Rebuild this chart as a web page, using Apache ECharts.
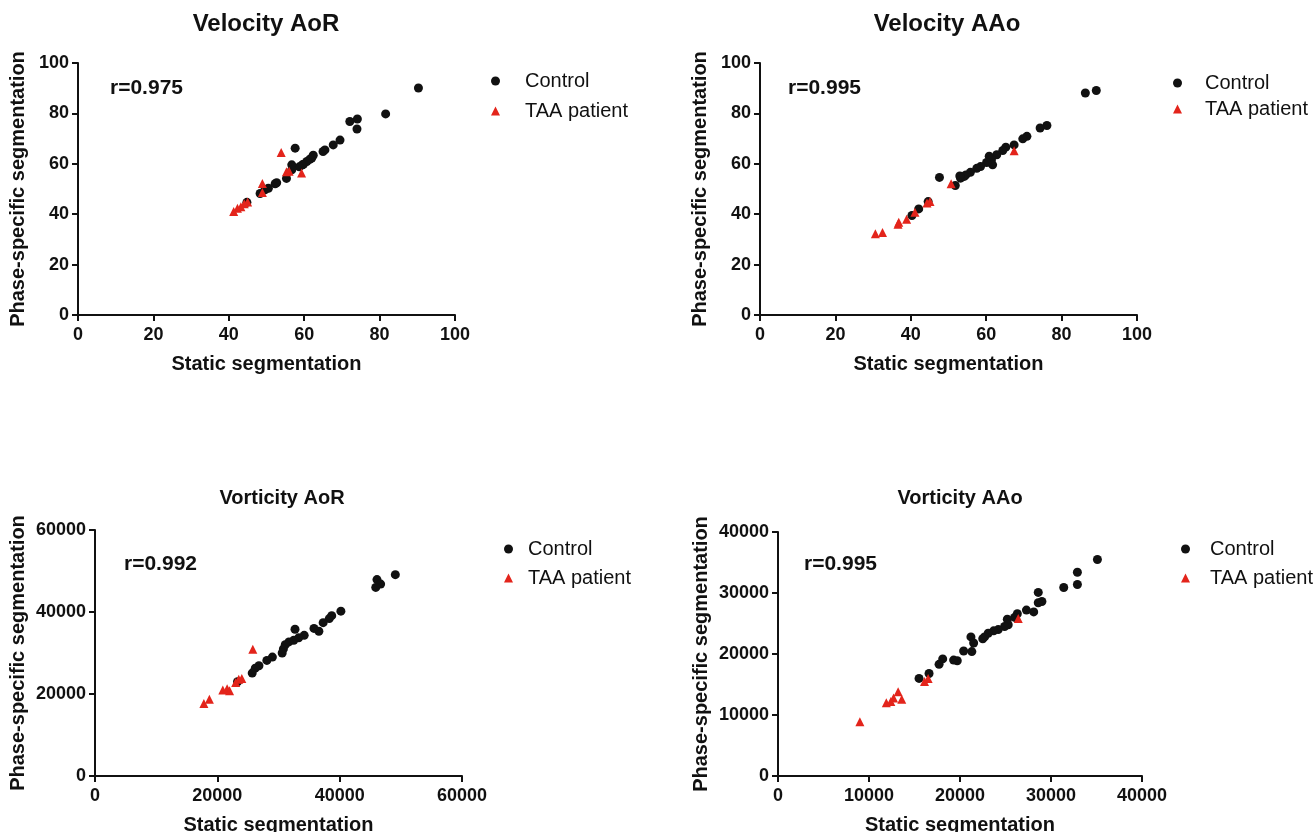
<!DOCTYPE html>
<html>
<head>
<meta charset="utf-8">
<script src="https://cdn.jsdelivr.net/npm/echarts@6/dist/echarts.min.js"></script>
<style>
  html, body { margin: 0; padding: 0; background: #fff; }
  #main { width: 1314px; height: 832px; }
</style>
</head>
<body>
<div id="main"></div>
<script>
'use strict'

// [static, phase-specific]
var velAoRControl = [[90.3,90.1],[81.6,79.8],[72.1,76.8],[74.1,77.8],[74.0,73.8],[69.5,69.4],[67.7,67.5],[65.5,65.5],[65.0,64.9],[62.4,63.4],[62.0,62.3],[61.5,61.8],[60.7,60.9],[59.8,59.8],[59.4,59.5],[58.7,58.8],[57.6,66.2],[56.7,59.6],[56.7,57.6],[55.3,54.2],[52.7,52.5],[52.3,52.1],[50.5,50.3],[49.6,49.7],[48.3,48.2],[44.8,44.7]];
var velAoRTAA = [[53.9,64.5],[48.9,52.2],[48.9,48.6],[55.3,56.8],[56.0,57.0],[59.3,56.3],[45.0,44.8],[44.1,44.1],[43.2,43.0],[42.3,42.4],[41.3,41.1]];

var velAAoControl = [[89.2,89.1],[86.3,88.1],[76.1,75.2],[74.3,74.2],[70.8,70.9],[69.7,69.9],[67.4,67.5],[65.2,66.6],[64.4,65.3],[62.8,63.6],[60.8,63.0],[61.4,61.6],[61.7,59.6],[60.1,60.5],[58.5,58.9],[57.5,58.2],[55.8,56.6],[54.6,55.6],[54.2,55.0],[53.2,54.3],[53.0,55.2],[51.8,51.4],[47.6,54.6],[44.6,45.0],[42.1,42.1],[40.3,39.5]];
var velAAoTAA = [[67.4,65.2],[50.7,52.1],[45.1,45.0],[44.3,44.4],[41.1,40.8],[38.9,38.0],[36.6,36.0],[36.8,36.8],[32.5,32.7],[30.6,32.2]];

var vorAoRControl = [[49100,49100],[46100,47900],[46700,46800],[45900,46000],[40200,40200],[38700,39100],[38300,38400],[37300,37400],[36600,35300],[35800,36000],[34200,34300],[33300,33700],[32700,35800],[32500,33100],[31700,32700],[31100,32000],[30800,31000],[30600,30000],[29000,29000],[28100,28200],[26800,26900],[26200,26300],[25700,25100],[23300,23000]];
var vorAoRTAA = [[17800,17700],[18700,18700],[20900,21000],[21600,21300],[22000,20800],[23000,22800],[23500,23600],[24000,23800],[25800,30900]];

var vorAAoControl = [[35100,35500],[32900,33400],[32900,31400],[31400,30900],[28600,30100],[29000,28600],[28600,28400],[28100,26900],[27300,27200],[26300,26600],[26000,26000],[25200,25700],[25300,24800],[24900,24500],[24200,24000],[23700,23800],[23100,23400],[22700,22800],[22500,22500],[21200,22800],[21500,21800],[21300,20400],[20400,20500],[19700,18900],[19300,19000],[18100,19200],[17700,18300],[16600,16800],[15500,16000]];
var vorAAoTAA = [[26400,25800],[16500,16000],[16100,15500],[13200,13800],[13600,12600],[12700,12800],[12400,12200],[11900,12000],[9000,8900]];

var panelTitles = ['Velocity AoR', 'Velocity AAo', 'Vorticity AoR', 'Vorticity AAo'];
var rLabels = ['r=0.975', 'r=0.995', 'r=0.992', 'r=0.995'];
var axisMax = [100, 100, 60000, 40000];
var axisStep = [20, 20, 20000, 10000];
var seriesNames = ['Control', 'TAA patient'];

var FONT = '"Liberation Sans", Arial, sans-serif';
var BLACK = '#111111';
var RED = '#e3241b';

// layout of the four panels (pixels)
var panels = [
    { grid: { left: 78, top: 63, width: 377, height: 252 }, titleX: 266, titleY: 12, titleSize: 24, rX: 110, rY: 78, legX: 491, legY: 71, legGap: 10, legPad: 20 },
    { grid: { left: 760, top: 63, width: 377, height: 252 }, titleX: 947, titleY: 12, titleSize: 24, rX: 788, rY: 78, legX: 1173, legY: 73, legGap: 6, legPad: 18 },
    { grid: { left: 95, top: 530, width: 367, height: 246 }, titleX: 282, titleY: 488, titleSize: 20, rX: 124, rY: 554, legX: 504, legY: 539, legGap: 9, legPad: 10 },
    { grid: { left: 778, top: 532, width: 364, height: 244 }, titleX: 960, titleY: 488, titleSize: 20, rX: 804, rY: 554, legX: 1181, legY: 539, legGap: 9, legPad: 15 }
];

var data = [
    [velAoRControl, velAoRTAA],
    [velAAoControl, velAAoTAA],
    [vorAoRControl, vorAoRTAA],
    [vorAAoControl, vorAAoTAA]
];

function plain(v) { return String(v); }

var grids = [], xAxes = [], yAxes = [], titles = [], legends = [], series = [];

panels.forEach(function (p, i) {
    // keep the grid exactly where it is, even if the axis name runs to the edge
    grids.push(Object.assign({ outerBoundsMode: 'none', containLabel: false }, p.grid));

    var axisCommon = {
        gridIndex: i,
        type: 'value',
        min: 0,
        max: axisMax[i],
        interval: axisStep[i],
        splitLine: { show: false },
        axisLine: { show: true, onZero: false, lineStyle: { color: BLACK, width: 2 } },
        axisTick: { show: true, length: 6, lineStyle: { color: BLACK, width: 2 } },
        nameTextStyle: { fontFamily: FONT, fontWeight: 'bold', fontSize: 20, color: BLACK },
        nameLocation: 'middle'
    };

    xAxes.push(Object.assign({}, axisCommon, {
        name: 'Static segmentation',
        nameGap: 39,
        axisLabel: { fontFamily: FONT, fontWeight: 'bold', fontSize: 18, color: BLACK, margin: 11, formatter: plain }
    }));
    yAxes.push(Object.assign({}, axisCommon, {
        name: 'Phase-specific segmentation',
        nameGap: i < 2 ? 50 : 67,
        axisLabel: { fontFamily: FONT, fontWeight: 'bold', fontSize: 18, color: BLACK, margin: 9, formatter: plain }
    }));

    titles.push({
        text: panelTitles[i],
        left: p.titleX,
        top: p.titleY,
        padding: 0,
        textAlign: 'center',
        textStyle: { fontFamily: FONT, fontWeight: 'bold', fontSize: p.titleSize, color: BLACK }
    });
    titles.push({
        text: rLabels[i],
        left: p.rX,
        top: p.rY,
        padding: 0,
        textStyle: { fontFamily: FONT, fontWeight: 'bold', fontSize: 21, color: BLACK }
    });

    legends.push({
        orient: 'vertical',
        left: p.legX,
        top: p.legY,
        padding: 0,
        itemWidth: 9,
        itemHeight: 9,
        itemGap: p.legGap,
        selectedMode: false,
        textStyle: { fontFamily: FONT, fontSize: 20, color: BLACK, padding: [0, 0, 0, p.legPad] },
        data: seriesNames.map(function (n) { return { name: n }; })
    });

    series.push({
        name: seriesNames[0],
        type: 'scatter',
        xAxisIndex: i,
        yAxisIndex: i,
        symbol: 'circle',
        symbolSize: 9,
        itemStyle: { color: BLACK, opacity: 1 },
        data: data[i][0]
    });
    series.push({
        name: seriesNames[1],
        type: 'scatter',
        xAxisIndex: i,
        yAxisIndex: i,
        symbol: 'triangle',
        symbolSize: 9,
        itemStyle: { color: RED, opacity: 1 },
        data: data[i][1]
    });
});

var chart = echarts.init(document.getElementById('main'));
chart.setOption({
    backgroundColor: '#ffffff',
    animation: false,
    title: titles,
    legend: legends,
    grid: grids,
    xAxis: xAxes,
    yAxis: yAxes,
    series: series
});
</script>
</body>
</html>
